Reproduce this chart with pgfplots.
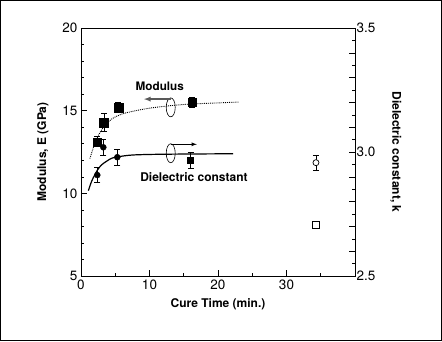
\documentclass[border=0pt]{standalone}
\usepackage{fontspec}
\setmainfont{TeX Gyre Heros}
\usepackage{pgfplots}
\pgfplotsset{compat=1.18}
\begin{document}
\begin{tikzpicture}
\useasboundingbox (-81pt,-65pt) rectangle (361pt,276pt);
\draw[line width=1.2pt] (-80.4pt,-64.4pt) rectangle (360.4pt,275.4pt);
\pgfplotsset{every axis/.append style={scale only axis, width=274pt, height=248pt,
  at={(0,0)}, anchor=south west, xmin=0, xmax=40,
  tick align=inside, major tick length=6pt, minor tick length=3.5pt,
  every tick/.style={black, line width=0.6pt},
  axis line style={line width=0.8pt},
  /pgf/number format/assume math mode=true,
  tick label style={font=\fontsize{13.5}{15}\selectfont},
  label style={font=\bfseries\fontsize{12}{14}\selectfont}}}
\begin{axis}[ymin=5, ymax=20,
  xtick={0,10,20,30}, minor xtick={5,15,25,35},
  ytick={5,10,15,20}, minor ytick={6,7,8,9,11,12,13,14,16,17,18,19},
  xtick pos=bottom, ytick pos=left,
  xlabel={Cure Time (min.)}, ylabel={Modulus, E (GPa)},
  xlabel style={yshift=-2pt}, ylabel style={yshift=7pt}]
\addplot[black, densely dotted, line width=0.9pt, smooth] coordinates {
 (1.3,12.1) (2.0,13.0) (2.8,13.7) (3.5,14.1) (4.5,14.5) (6,14.8) (8,15.0)
 (10,15.15) (13,15.3) (16,15.4) (20,15.47) (23,15.52)};
\addplot[only marks, mark=square*, mark size=4pt,
  error bars/.cd, y dir=both, y explicit,
  error bar style={line width=0.6pt}, error mark options={rotate=90, mark size=3pt, line width=0.6pt}]
  coordinates {(2.38,13.12) +- (0,0.3) (16.2,15.5) +- (0,0.3)};
\addplot[only marks, mark=square*, mark size=4.6pt,
  error bars/.cd, y dir=both, y explicit,
  error bar style={line width=0.6pt}, error mark options={rotate=90, mark size=3pt, line width=0.6pt}]
  coordinates {(3.36,14.29) +- (0,0.55) (5.45,15.2) +- (0,0.3)};
\addplot[only marks, mark=square, mark size=3.7pt, mark options={fill=white, line width=0.7pt}]
  coordinates {(34.3,8.08)};
\draw[line width=0.6pt] (axis cs:13.1,15.2) ellipse [x radius=4.5pt, y radius=9.5pt];
\draw[line width=1.3pt, gray!70!black, -latex] (axis cs:13.1,15.7) -- (axis cs:9.2,15.7);
\node[font=\bfseries\fontsize{11.7}{13}\selectfont] at (axis cs:11.5,16.45) {Modulus};
\node[font=\bfseries\fontsize{12}{14}\selectfont] at (axis cs:16.5,10.97) {Dielectric constant};
\end{axis}
\begin{axis}[ymin=2.5, ymax=3.5,
  axis x line=none, axis y line*=right,
  ytick={2.5,2.6,2.7,2.8,2.9,3.0,3.1,3.2,3.3,3.4,3.5},
  yticklabels={2.5,,,,,3.0,,,,,3.5},
  minor ytick={2.55,2.65,2.75,2.85,2.95,3.05,3.15,3.25,3.35,3.45},
  yticklabel style={xshift=-2pt},
  ylabel={Dielectric constant, k}, ylabel style={rotate=180, yshift=8pt}]
\addplot[black, line width=1.2pt, smooth] coordinates {
 (1.07,2.844) (1.6,2.885) (2.4,2.927) (3.0,2.948) (3.75,2.963) (4.5,2.975)
 (5.45,2.981) (7.6,2.988) (12,2.991) (22.2,2.993)};
\addplot[only marks, mark=*, mark size=3pt,
  error bars/.cd, y dir=both, y explicit,
  error bar style={line width=0.6pt}, error mark options={rotate=90, mark size=3pt, line width=0.6pt}]
  coordinates {(2.38,2.907) +- (0,0.03) (3.26,3.019) +- (0,0.032) (5.3,2.979) +- (0,0.032)};
\addplot[only marks, mark=square*, mark size=3pt,
  error bars/.cd, y dir=both, y explicit,
  error bar style={line width=0.6pt}, error mark options={rotate=90, mark size=3pt, line width=0.6pt}]
  coordinates {(16.0,2.968) +- (0,0.032)};
\addplot[only marks, mark=*, mark size=3pt, mark options={fill=white, line width=0.7pt},
  error bars/.cd, y dir=both, y explicit,
  error bar style={line width=0.6pt}, error mark options={rotate=90, mark size=3pt, line width=0.6pt}]
  coordinates {(34.3,2.957) +- (0,0.03)};
\draw[line width=0.6pt] (axis cs:13.1,2.995) ellipse [x radius=4.5pt, y radius=9.5pt];
\draw[line width=0.8pt, -latex] (axis cs:13.1,3.031) -- (axis cs:16.9,3.031);
\end{axis}
\end{tikzpicture}
\end{document}
